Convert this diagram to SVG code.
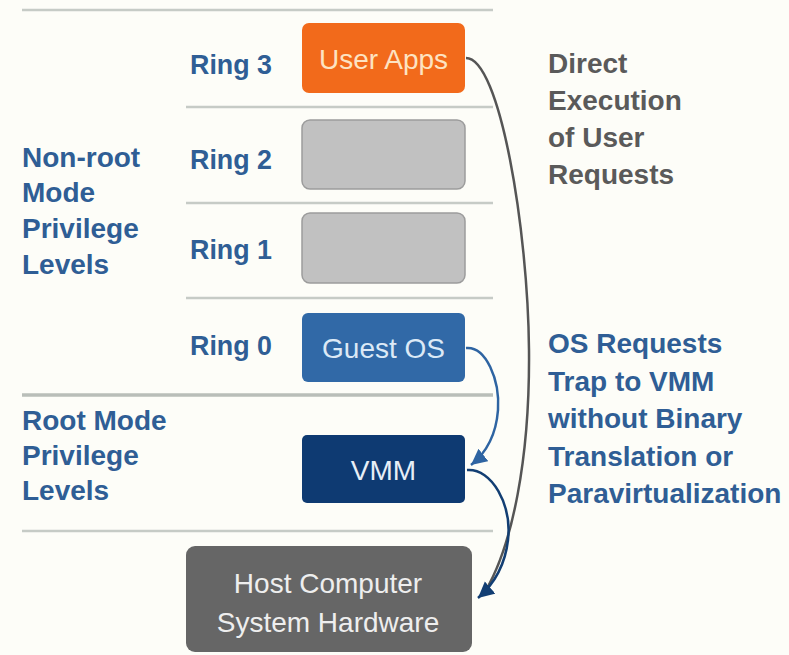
<svg xmlns="http://www.w3.org/2000/svg" width="789" height="655" viewBox="0 0 789 655">
  <style>
    text { font-family: "Liberation Sans", Arial, sans-serif; }
    .lvl { font-size: 28px; font-weight: bold; fill: #2f5e95; }
    .note { font-size: 28px; font-weight: bold; }
    .gray-note { fill: #5a5a5a; }
    .blue-note { fill: #2f5e95; }
    .box-text { font-size: 28px; text-anchor: middle; }
    .sep { stroke: #c6cbc6; stroke-width: 2.5; fill: none; }
    .sep-major { stroke: #b9beb9; stroke-width: 3.5; fill: none; }
    .empty { fill: #c1c1c1; stroke: #9c9c9c; stroke-width: 1.5; }
    .conn { fill: none; stroke-width: 2.5; }
  </style>
  <defs>
    <marker id="head-navy" markerUnits="userSpaceOnUse" markerWidth="20" markerHeight="20" refX="16" refY="8" orient="auto">
      <path d="M0,0 L16,8 L0,16 Z" fill="#123e73"/>
    </marker>
    <marker id="head-blue" markerUnits="userSpaceOnUse" markerWidth="20" markerHeight="20" refX="16" refY="8" orient="auto">
      <path d="M0,0 L16,8 L0,16 Z" fill="#2e64a2"/>
    </marker>
  </defs>

  <rect width="789" height="655" fill="#fdfdf8"/>

  <!-- level separators -->
  <g id="separators">
    <line class="sep" x1="22" y1="10" x2="493" y2="10"/>
    <line class="sep" x1="186" y1="107" x2="493" y2="107"/>
    <line class="sep" x1="186" y1="203" x2="493" y2="203"/>
    <line class="sep" x1="186" y1="298" x2="493" y2="298"/>
    <line class="sep-major" x1="22" y1="395" x2="493" y2="395"/>
    <line class="sep" x1="22" y1="531" x2="493" y2="531"/>
  </g>

  <!-- mode labels -->
  <g id="nonroot-label">
    <text class="lvl" x="22" y="167">Non-root</text>
    <text class="lvl" x="22" y="202">Mode</text>
    <text class="lvl" x="22" y="238">Privilege</text>
    <text class="lvl" x="22" y="274">Levels</text>
  </g>
  <g id="root-label">
    <text class="lvl" x="22" y="430">Root Mode</text>
    <text class="lvl" x="22" y="465">Privilege</text>
    <text class="lvl" x="22" y="500">Levels</text>
  </g>

  <!-- ring labels -->
  <g id="ring-labels">
    <text class="lvl" x="190" y="74" textLength="82" lengthAdjust="spacingAndGlyphs">Ring 3</text>
    <text class="lvl" x="190" y="169" textLength="82" lengthAdjust="spacingAndGlyphs">Ring 2</text>
    <text class="lvl" x="190" y="259" textLength="82" lengthAdjust="spacingAndGlyphs">Ring 1</text>
    <text class="lvl" x="190" y="355" textLength="82" lengthAdjust="spacingAndGlyphs">Ring 0</text>
  </g>

  <!-- ring contents -->
  <g id="user-apps">
    <rect x="302" y="23" width="163" height="70" rx="7" fill="#f26a1b"/>
    <text class="box-text" x="383.5" y="69" fill="#fde3c2">User Apps</text>
  </g>
  <g id="ring2-slot">
    <rect class="empty" x="302" y="120" width="163" height="69" rx="8"/>
  </g>
  <g id="ring1-slot">
    <rect class="empty" x="302" y="213" width="163" height="70" rx="8"/>
  </g>
  <g id="guest-os">
    <rect x="302" y="313" width="163" height="69" rx="6" fill="#3169a7"/>
    <text class="box-text" x="383.5" y="358" fill="#dce9f6">Guest OS</text>
  </g>
  <g id="vmm">
    <rect x="302" y="435" width="163" height="68" rx="5" fill="#0e3a72"/>
    <text class="box-text" x="383.5" y="480" fill="#e6eef7">VMM</text>
  </g>
  <g id="host-hardware">
    <rect x="186" y="546" width="286" height="106" rx="9" fill="#666666"/>
    <text class="box-text" x="328" y="593" fill="#eeeeee">Host Computer</text>
    <text class="box-text" x="328" y="632" fill="#eeeeee">System Hardware</text>
  </g>

  <!-- annotations -->
  <g id="direct-note">
    <text class="note gray-note" x="548" y="73">Direct</text>
    <text class="note gray-note" x="548" y="110">Execution</text>
    <text class="note gray-note" x="548" y="147">of User</text>
    <text class="note gray-note" x="548" y="184">Requests</text>
  </g>
  <g id="trap-note">
    <text class="note blue-note" x="548" y="353">OS Requests</text>
    <text class="note blue-note" x="548" y="391">Trap to VMM</text>
    <text class="note blue-note" x="548" y="428">without Binary</text>
    <text class="note blue-note" x="548" y="466">Translation or</text>
    <text class="note blue-note" x="548" y="503">Paravirtualization</text>
  </g>

  <!-- connectors -->
  <g id="connectors">
    <path class="conn" stroke="#555555" d="M466,58 C500,58 528,230 529,350 C530,460 512,545 486,590"/>
    <path class="conn" stroke="#2e64a2" d="M466,348 C486,346 500,380 498,410 C496,436 486,453 471,465" marker-end="url(#head-blue)"/>
    <path class="conn" stroke="#123e73" d="M467,470 C492,468 512,505 508,540 C505,566 493,585 478,598" marker-end="url(#head-navy)"/>
  </g>
</svg>
